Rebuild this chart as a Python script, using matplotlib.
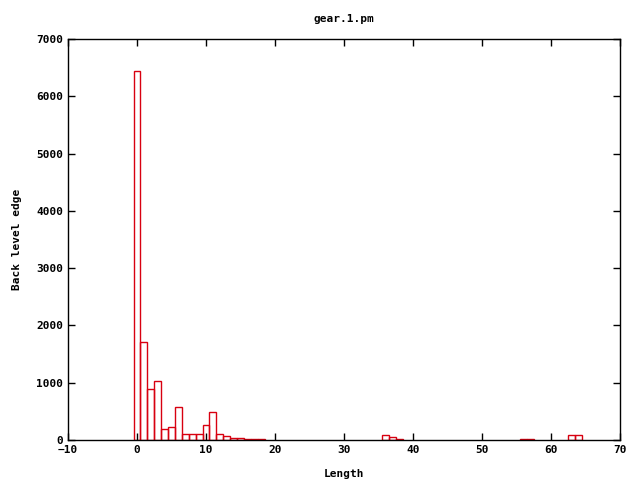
import matplotlib
matplotlib.use("Agg")
import matplotlib.pyplot as plt

lengths = [0, 1, 2, 3, 4, 5, 6, 7, 8, 9, 10, 11, 12, 13, 14, 15, 16, 17, 18,
           36, 37, 38, 56, 57, 63, 64]
counts = [6450, 1705, 885, 1035, 186, 221, 570, 105, 105, 105, 256, 483, 105, 64, 35, 35, 12, 12, 12,
          87, 47, 12, 15, 15, 87, 87]
xticks = [-10, 0, 10, 20, 30, 40, 50, 60, 70]
yticks = [0, 1000, 2000, 3000, 4000, 5000, 6000, 7000]

plt.rcParams['font.family'] = ['DejaVu Sans Mono']
plt.rcParams['font.weight'] = 'bold'

fig = plt.figure(figsize=(6.4, 4.8), dpi=100)
ax = fig.add_axes([68/640, 40/480, 552/640, 401/480])
ax.bar(lengths, counts, width=1.0, fill=False, edgecolor='#d80010', linewidth=1.0)
ax.set_xlim(-10, 70)
ax.set_ylim(0, 7000)
ax.set_xticks(xticks)
ax.set_yticks(yticks)
ax.tick_params(direction='in', top=True, right=True, length=5, labelsize=8, width=1)
for lab in ax.get_xticklabels() + ax.get_yticklabels():
    lab.set_fontweight('bold')
for s in ax.spines.values():
    s.set_linewidth(1)
ax.set_xlabel('Length', fontsize=8, fontweight='bold', labelpad=10)
ax.set_ylabel('Back level edge', fontsize=8, fontweight='bold', labelpad=10)
ax.set_title('gear.1.pm', fontsize=8, fontweight='bold', pad=12)
fig.savefig('out.png', dpi=100)
